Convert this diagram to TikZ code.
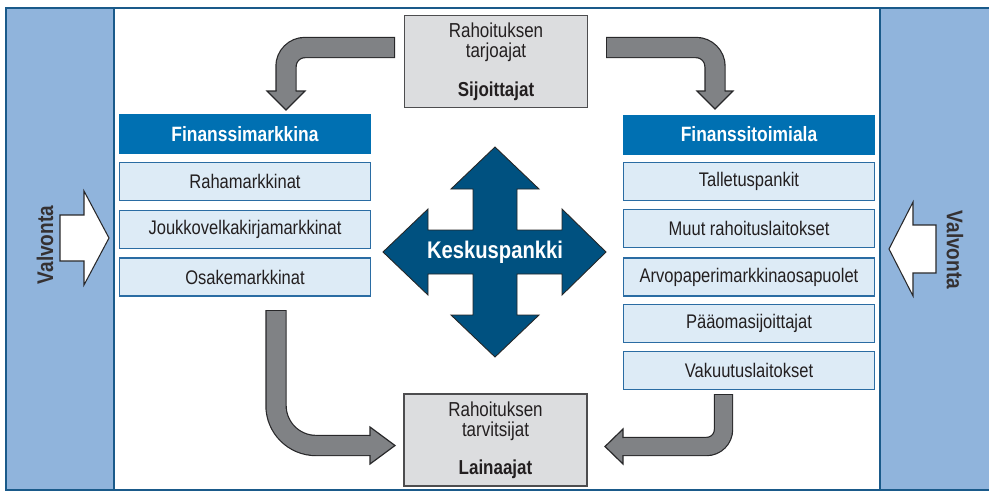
\documentclass[tikz,border=0pt]{standalone}
\usepackage{fontspec}
\setmainfont{Liberation Sans}[FakeStretch=0.84]
\definecolor{panelblue}{RGB}{144,180,220}
\definecolor{frameblue}{RGB}{26,90,138}
\definecolor{hdrblue}{RGB}{0,112,178}
\definecolor{itemfill}{RGB}{221,235,246}
\definecolor{itemborder}{RGB}{42,108,163}
\definecolor{crossblue}{RGB}{0,81,128}
\definecolor{arrowgray}{RGB}{128,130,133}
\definecolor{arrowborder}{RGB}{40,40,42}
\definecolor{boxgray}{RGB}{220,221,223}
\definecolor{boxborder}{RGB}{77,77,79}
\definecolor{txtdark}{RGB}{35,31,32}
\begin{document}
\begin{tikzpicture}[x=0.02cm,y=-0.02cm,
  hdr/.style={fill=hdrblue, text=white, font=\bfseries\fontsize{11.8}{13}\selectfont,
    minimum width=5.04cm, minimum height=0.8cm, inner sep=0pt},
  item/.style={fill=itemfill, draw=itemborder, line width=0.7pt, text=txtdark,
    font=\fontsize{11.2}{12}\selectfont, minimum width=5.02cm, minimum height=0.76cm, inner sep=0pt},
  gbox/.style={fill=boxgray, draw=boxborder, line width=0.7pt, text=txtdark,
    font=\fontsize{11.5}{11.3}\selectfont, align=center, minimum width=3.66cm,
    minimum height=1.84cm, inner sep=0pt},
  shaftdark/.style={draw=arrowborder, line width=#1},
  shaftgray/.style={draw=arrowgray, line width=#1, shorten <=0.024cm},
  headfill/.style={fill=arrowgray},
  headline/.style={draw=arrowborder, line width=0.68pt, line join=miter},
  valv/.style={text=txtdark!92, font=\bfseries\fontsize{12.9}{14}\selectfont, inner sep=0pt},
  warrow/.style={fill=white, draw=arrowborder, line width=0.6pt, line join=miter}
]
\useasboundingbox (0,0) rectangle (989,491);
% frame and panels
\fill[panelblue] (6,8) rectangle (989,490);
\fill[white] (114,8) rectangle (880,490);
\draw[frameblue, line width=0.8pt] (114,8) -- (114,490) (880,8) -- (880,490);
\draw[frameblue, line width=1.4pt] (989,8) -- (6,8) -- (6,490) -- (989,490);

% supervision arrows
\draw[warrow] (60,215) -- (84,215) -- (84,191) -- (109,238) -- (84,285) -- (84,261) -- (60,261) -- cycle;
\draw[warrow] (936,225) -- (913,225) -- (913,202) -- (889,249) -- (913,296) -- (913,273) -- (936,273) -- cycle;
\node[valv, rotate=90] (valvL) at (45,245) {Valvonta};
\node[valv, rotate=-90] (valvR) at (955,250) {Valvonta};

% boxes
\node[gbox] (top) at (496,61.5) {Rahoituksen\\tarjoajat\\[0.38cm]\textbf{Sijoittajat}};
\node[gbox] (bot) at (495.5,440) {Rahoituksen\\tarvitsijat\\[0.36cm]\textbf{Lainaajat}};

\node[hdr] (fm) at (245,134) {Finanssimarkkina};
\node[item] (l1) at (245,181.5) {Rahamarkkinat};
\node[item] (l2) at (245,229.5) {Joukkovelkakirjamarkkinat};
\node[item] (l3) at (245,277) {Osakemarkkinat};

\node[hdr] (ft) at (749,134.5) {Finanssitoimiala};
\node[item] (r1) at (749,181.5) {Talletuspankit};
\node[item] (r2) at (749,228.5) {Muut rahoituslaitokset};
\node[item] (r3) at (749,277) {Arvopaperimarkkinaosapuolet};
\node[item] (r4) at (749,323.5) {Pääomasijoittajat};
\node[item] (r5) at (749,370.5) {Vakuutuslaitokset};

% central bank cross
\filldraw[fill=crossblue, draw=black!85, line width=0.5pt, line join=miter]
  (495,147) -- (539,189) -- (517,189) -- (517,230) -- (562,230) -- (562,209) -- (606,252)
  -- (562,295) -- (562,274) -- (517,274) -- (517,315) -- (539,315) -- (495,357)
  -- (451,315) -- (473,315) -- (473,274) -- (428,274) -- (428,295) -- (383,252)
  -- (428,209) -- (428,230) -- (473,230) -- (473,189) -- (451,189) -- cycle;
\node[text=white, font=\bfseries\fontsize{13.7}{15}\selectfont, inner sep=0pt] (kp) at (495,252) {Keskuspankki};

% gray flow arrows
% top-left
\draw[shaftdark=0.428cm, rounded corners=0.38cm] (395,47.5) -- (286,47.5) -- (286,92);
\draw[shaftgray=0.38cm, rounded corners=0.38cm] (395,47.5) -- (286,47.5) -- (286,92);
\fill[headfill] (267,91) -- (286,110) -- (305,91) -- cycle;
\draw[headline] (276.5,91) -- (267,91) -- (286,110) -- (305,91) -- (295.5,91);
% top-right
\draw[shaftdark=0.428cm, rounded corners=0.38cm] (606,47.5) -- (715,47.5) -- (715,92);
\draw[shaftgray=0.38cm, rounded corners=0.38cm] (606,47.5) -- (715,47.5) -- (715,92);
\fill[headfill] (697,91) -- (715,109) -- (733,91) -- cycle;
\draw[headline] (705.5,91) -- (697,91) -- (715,109) -- (733,91) -- (724.5,91);
% bottom-left
\draw[shaftdark=0.428cm, rounded corners=0.8cm] (276,310) -- (276,445.5) -- (371,445.5);
\draw[shaftgray=0.38cm, rounded corners=0.8cm] (276,310) -- (276,445.5) -- (371,445.5);
\fill[headfill] (370,427) -- (395,445.5) -- (370,464) -- cycle;
\draw[headline] (370,436) -- (370,427) -- (395,445.5) -- (370,464) -- (370,455);
% bottom-right
\draw[shaftdark=0.388cm, rounded corners=0.34cm] (723.5,394) -- (723.5,446.5) -- (622,446.5);
\draw[shaftgray=0.34cm, rounded corners=0.34cm] (723.5,394) -- (723.5,446.5) -- (622,446.5);
\fill[headfill] (623,429) -- (605,446.5) -- (623,464) -- cycle;
\draw[headline] (623,438) -- (623,429) -- (605,446.5) -- (623,464) -- (623,455);
\end{tikzpicture}
\end{document}
